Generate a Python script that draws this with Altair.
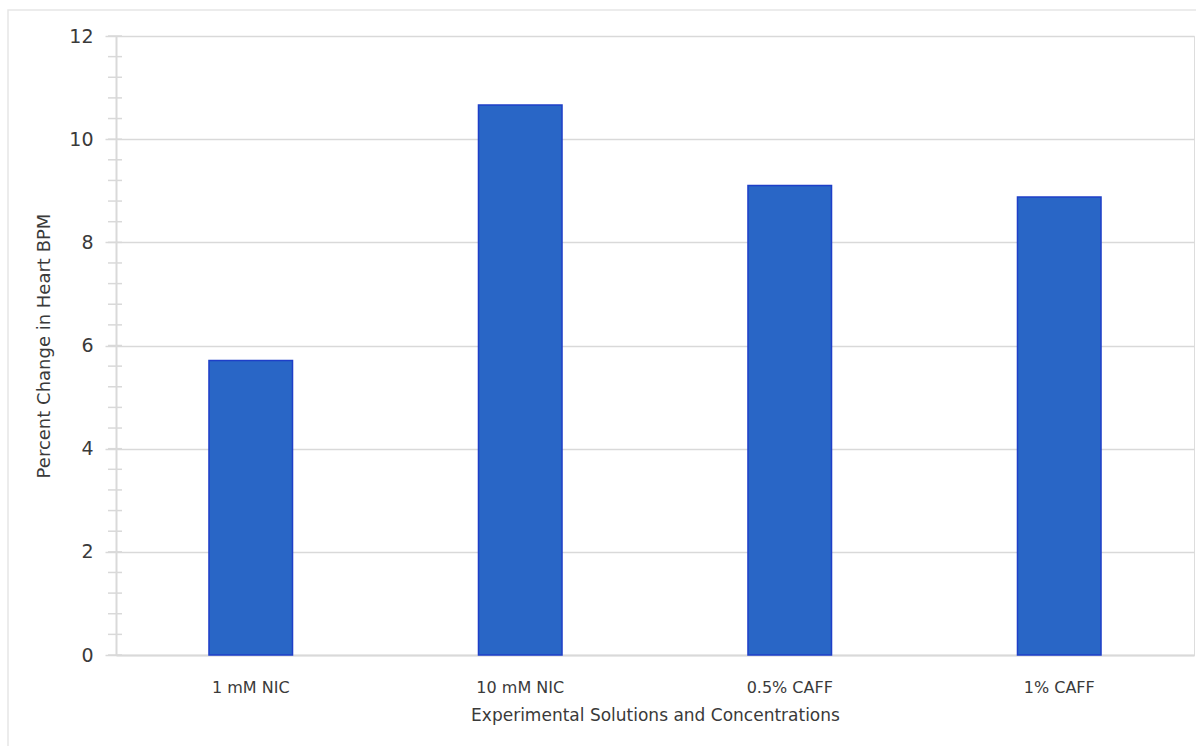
import altair as alt
import pandas as pd
import numpy as np

categories = ["1 mM NIC", "10 mM NIC", "0.5% CAFF", "1% CAFF"]
values = [5.71, 10.66, 9.10, 8.88]

df = pd.DataFrame({"cat": categories, "val": values})
minor = pd.DataFrame({"v": [round(x, 1) for x in np.arange(0, 12.01, 0.4)]})

FONT = "DejaVu Sans"
GRID = "#d9d9d9"
TXT = "#3a3a3a"

bars = alt.Chart(df).mark_bar(color="#2966C6", stroke="#1E3FC8", strokeWidth=1.5).encode(
    x=alt.X("cat:N", sort=categories,
            scale=alt.Scale(paddingInner=0.69, paddingOuter=0.345),
            axis=alt.Axis(title="Experimental Solutions and Concentrations", labelAngle=0,
                          labelFont=FONT, labelFontSize=16, labelColor=TXT, labelPadding=24,
                          titleFont=FONT, titleFontSize=17, titleFontWeight="normal", titleColor=TXT,
                          titlePadding=12, domainColor=GRID, domainWidth=2, ticks=False)),
    y=alt.Y("val:Q", scale=alt.Scale(domain=[0, 12]),
            axis=alt.Axis(title="Percent Change in Heart BPM", values=[0, 2, 4, 6, 8, 10, 12],
                          labelFont=FONT, labelFontSize=19, labelColor=TXT, labelPadding=12,
                          titleFont=FONT, titleFontSize=18, titleFontWeight="normal", titleColor=TXT,
                          titlePadding=15, grid=True, gridColor=GRID, gridWidth=1.5,
                          domainColor=GRID, domainWidth=2, tickColor=GRID, tickSize=11, tickWidth=1.5)),
)

ticks = alt.Chart(minor).mark_rule(color=GRID, strokeWidth=1.5).encode(
    y=alt.Y("v:Q", scale=alt.Scale(domain=[0, 12])),
    x=alt.value(-8), x2=alt.value(6),
)

frame = alt.Chart(pd.DataFrame({"a": [0]})).mark_rect(fill=None, stroke="#e6e6e6", strokeWidth=1.5).encode(
    x=alt.value(-108), x2=alt.value(1100), y=alt.value(-26), y2=alt.value(730),
)

chart = alt.layer(frame, ticks, bars).properties(
    width=1078, height=619,
    autosize=alt.AutoSizeParams(type="none"),
    padding={"left": 116, "top": 36, "right": 2, "bottom": 91},
).configure_view(stroke=GRID, strokeWidth=1.5).configure(background="white")

chart.save("out.html", embed_options={"renderer": "svg", "actions": False})
